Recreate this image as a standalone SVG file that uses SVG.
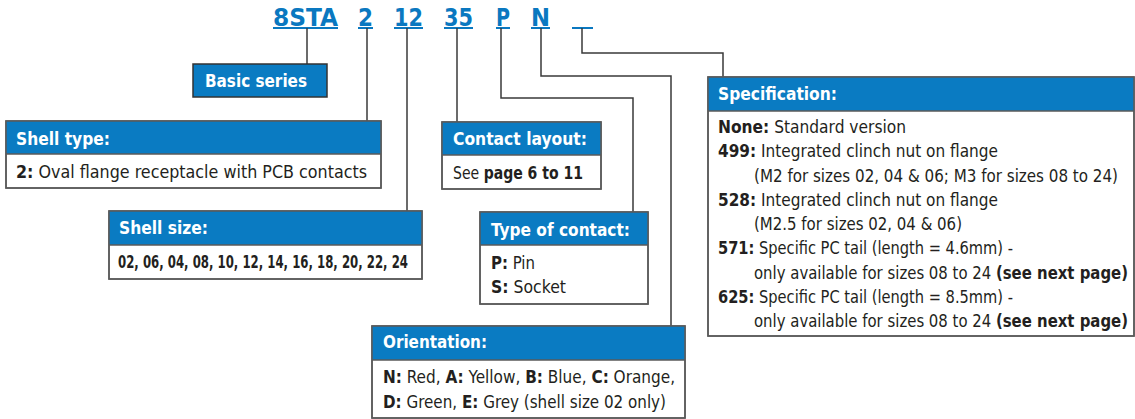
<svg xmlns="http://www.w3.org/2000/svg" width="1135" height="419" viewBox="0 0 1135 419">
<style>
text{font-family:"Liberation Sans Narrow","DejaVu Sans Condensed","Liberation Sans",sans-serif;fill:#231f20;font-size:18px}
.code{fill:#0a78c0;font-weight:bold;font-size:25px}
.ul{stroke:#0a78c0;stroke-width:2}
.hd{fill:#0a7bc2}
.bx{fill:#fff;stroke:#5a5a5a;stroke-width:1.5}
.hl{stroke:#5a5a5a;stroke-width:1.5}
.tt{fill:#fff;font-weight:bold;font-size:17.5px}
.b{font-weight:bold}
.cn{fill:none;stroke:#3a3a3a;stroke-width:1.5}
</style>
<g id="code">
<text class="code" x="273" y="26" textLength="65" lengthAdjust="spacingAndGlyphs">8STA</text>
<text class="code" x="358" y="26" textLength="15" lengthAdjust="spacingAndGlyphs">2</text>
<text class="code" x="394" y="26" textLength="29" lengthAdjust="spacingAndGlyphs">12</text>
<text class="code" x="444" y="26" textLength="29" lengthAdjust="spacingAndGlyphs">35</text>
<text class="code" x="496" y="26" textLength="14" lengthAdjust="spacingAndGlyphs">P</text>
<text class="code" x="531" y="26" textLength="19" lengthAdjust="spacingAndGlyphs">N</text>
<line class="ul" x1="273" y1="28" x2="338" y2="28"/>
<line class="ul" x1="358" y1="28" x2="373" y2="28"/>
<line class="ul" x1="394" y1="28" x2="423" y2="28"/>
<line class="ul" x1="444" y1="28" x2="473" y2="28"/>
<line class="ul" x1="496" y1="28" x2="510" y2="28"/>
<line class="ul" x1="531" y1="28" x2="550" y2="28"/>
<line class="ul" x1="572" y1="28" x2="593" y2="28"/>
</g>
<g id="connectors">
<polyline class="cn" points="307,28 307,64"/>
<polyline class="cn" points="367,28 367,121"/>
<polyline class="cn" points="407,28 407,211"/>
<polyline class="cn" points="457,28 457,122"/>
<polyline class="cn" points="501,28 501,98 633,98 633,212"/>
<polyline class="cn" points="541,28 541,76 671,76 671,326"/>
<polyline class="cn" points="582,28 582,53 723,53 723,77"/>
</g>
<g id="basic-series">
<rect x="193" y="64" width="134" height="33" class="hd" stroke="#333" stroke-width="1.5"/>
<text class="tt" x="205" y="87" textLength="102" lengthAdjust="spacingAndGlyphs">Basic series</text>
</g>
<g id="shell-type">
<rect class="bx" x="6" y="121" width="375" height="67"/>
<rect class="hd" x="6" y="121" width="375" height="33"/>
<rect x="6" y="121" width="375" height="67" fill="none" stroke="#5a5a5a" stroke-width="1.5"/>
<line class="hl" x1="6" y1="154" x2="381" y2="154"/>
<text class="tt" x="16" y="145" textLength="94" lengthAdjust="spacingAndGlyphs">Shell type:</text>
<text x="16" y="178" textLength="351" lengthAdjust="spacingAndGlyphs"><tspan class="b">2:</tspan> Oval flange receptacle with PCB contacts</text>
</g>
<g id="shell-size">
<rect class="bx" x="109" y="211" width="313" height="68"/>
<rect class="hd" x="109" y="211" width="313" height="34"/>
<rect x="109" y="211" width="313" height="68" fill="none" stroke="#5a5a5a" stroke-width="1.5"/>
<line class="hl" x1="109" y1="245" x2="422" y2="245"/>
<text class="tt" x="119" y="234" textLength="89" lengthAdjust="spacingAndGlyphs">Shell size:</text>
<text class="b" x="118" y="268" textLength="290" lengthAdjust="spacingAndGlyphs">02, 06, 04, 08, 10, 12, 14, 16, 18, 20, 22, 24</text>
</g>
<g id="contact-layout">
<rect class="bx" x="442" y="122" width="159" height="67"/>
<rect class="hd" x="442" y="122" width="159" height="33"/>
<rect x="442" y="122" width="159" height="67" fill="none" stroke="#5a5a5a" stroke-width="1.5"/>
<line class="hl" x1="442" y1="155" x2="601" y2="155"/>
<text class="tt" x="453" y="145" textLength="134" lengthAdjust="spacingAndGlyphs">Contact layout:</text>
<text x="453" y="179" textLength="130" lengthAdjust="spacingAndGlyphs">See <tspan class="b">page 6 to 11</tspan></text>
</g>
<g id="type-of-contact">
<rect class="bx" x="480" y="212" width="168" height="92"/>
<rect class="hd" x="480" y="212" width="168" height="33"/>
<rect x="480" y="212" width="168" height="92" fill="none" stroke="#5a5a5a" stroke-width="1.5"/>
<line class="hl" x1="480" y1="245" x2="648" y2="245"/>
<text class="tt" x="491" y="236" textLength="139" lengthAdjust="spacingAndGlyphs">Type of contact:</text>
<text x="491" y="269" textLength="44" lengthAdjust="spacingAndGlyphs"><tspan class="b">P:</tspan> Pin</text>
<text x="491" y="293" textLength="75" lengthAdjust="spacingAndGlyphs"><tspan class="b">S:</tspan> Socket</text>
</g>
<g id="orientation">
<rect class="bx" x="372" y="326" width="313" height="92"/>
<rect class="hd" x="372" y="326" width="313" height="34"/>
<rect x="372" y="326" width="313" height="92" fill="none" stroke="#5a5a5a" stroke-width="1.5"/>
<line class="hl" x1="372" y1="360" x2="685" y2="360"/>
<text class="tt" x="383" y="348" textLength="104" lengthAdjust="spacingAndGlyphs">Orientation:</text>
<text x="383" y="383" textLength="292" lengthAdjust="spacingAndGlyphs"><tspan class="b">N:</tspan> Red, <tspan class="b">A:</tspan> Yellow, <tspan class="b">B:</tspan> Blue, <tspan class="b">C:</tspan> Orange,</text>
<text x="383" y="408" textLength="283" lengthAdjust="spacingAndGlyphs"><tspan class="b">D:</tspan> Green, <tspan class="b">E:</tspan> Grey (shell size 02 only)</text>
</g>
<g id="specification">
<rect class="bx" x="708" y="77" width="426" height="259"/>
<rect class="hd" x="708" y="77" width="426" height="34"/>
<rect x="708" y="77" width="426" height="259" fill="none" stroke="#5a5a5a" stroke-width="1.5"/>
<line class="hl" x1="708" y1="111" x2="1134" y2="111"/>
<text class="tt" x="718" y="100" textLength="119" lengthAdjust="spacingAndGlyphs">Specification:</text>
<text x="718" y="133" textLength="188" lengthAdjust="spacingAndGlyphs"><tspan class="b">None:</tspan> Standard version</text>
<text x="718" y="157" textLength="280" lengthAdjust="spacingAndGlyphs"><tspan class="b">499:</tspan> Integrated clinch nut on flange</text>
<text x="754" y="182" textLength="364" lengthAdjust="spacingAndGlyphs">(M2 for sizes 02, 04 &amp; 06; M3 for sizes 08 to 24)</text>
<text x="718" y="206" textLength="280" lengthAdjust="spacingAndGlyphs"><tspan class="b">528:</tspan> Integrated clinch nut on flange</text>
<text x="754" y="230" textLength="208" lengthAdjust="spacingAndGlyphs">(M2.5 for sizes 02, 04 &amp; 06)</text>
<text x="718" y="254" textLength="295" lengthAdjust="spacingAndGlyphs"><tspan class="b">571:</tspan> Specific PC tail (length = 4.6mm) -</text>
<text x="754" y="279" textLength="374" lengthAdjust="spacingAndGlyphs">only available for sizes 08 to 24 <tspan class="b">(see next page)</tspan></text>
<text x="718" y="303" textLength="295" lengthAdjust="spacingAndGlyphs"><tspan class="b">625:</tspan> Specific PC tail (length = 8.5mm) -</text>
<text x="754" y="327" textLength="374" lengthAdjust="spacingAndGlyphs">only available for sizes 08 to 24 <tspan class="b">(see next page)</tspan></text>
</g>
</svg>
